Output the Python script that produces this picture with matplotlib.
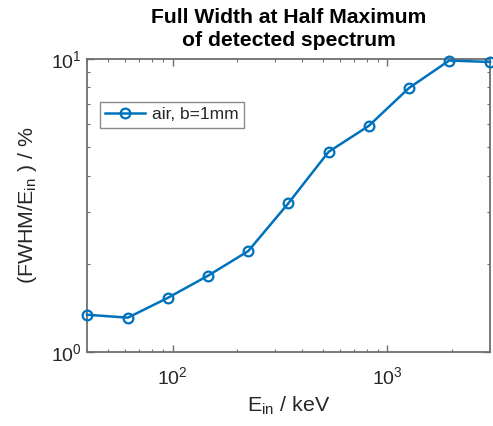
import numpy as np
import matplotlib
matplotlib.use('Agg')
import matplotlib.pyplot as plt
from matplotlib.ticker import LogLocator, NullFormatter

plt.rcParams['font.family'] = ['Liberation Sans', 'DejaVu Sans']
plt.rcParams['mathtext.fontset'] = 'custom'
plt.rcParams['mathtext.rm'] = 'Liberation Sans'
plt.rcParams['mathtext.it'] = 'Liberation Sans:italic'
plt.rcParams['mathtext.bf'] = 'Liberation Sans:bold'

# values
e_in = [40, 62, 95, 146, 225, 346, 532, 818, 1259, 1937, 3000]  # keV
fwhm = [1.34, 1.31, 1.53, 1.82, 2.21, 3.22, 4.82, 5.91, 7.96, 9.88, 9.77]  # %
series_label = 'air, b=1mm'

blue = '#0072BD'
axcol = '#6e6e6e'
txtcol = '#262626'


def main():
    fig = plt.figure(figsize=(4.93, 4.26), dpi=100)
    ax = fig.add_axes([87/493, 74/426, 403/493, 293/426])

    ax.plot(e_in, fwhm, '-o', color=blue, lw=1.8, ms=7, mfc='none',
            mew=1.6, label=series_label, clip_on=False, zorder=3)

    ax.set_xscale('log')
    ax.set_yscale('log')
    ax.set_xlim(40, 3000)
    ax.set_ylim(1, 10)

    ax.xaxis.set_major_locator(LogLocator(base=10))
    ax.yaxis.set_major_locator(LogLocator(base=10))
    ax.xaxis.set_minor_locator(LogLocator(base=10, subs=np.arange(2, 10)))
    ax.yaxis.set_minor_locator(LogLocator(base=10, subs=np.arange(2, 10)))
    ax.xaxis.set_minor_formatter(NullFormatter())
    ax.yaxis.set_minor_formatter(NullFormatter())

    ax.tick_params(which='both', direction='in', top=True, right=True,
                   color=axcol, labelcolor=txtcol, labelsize=14)
    ax.tick_params(which='major', length=5, width=1)
    ax.tick_params(which='minor', length=2.5, width=0.8)
    ax.tick_params(axis='x', pad=10)
    for s in ax.spines.values():
        s.set_color(axcol)
        s.set_linewidth(1.3)

    ax.set_xlabel(r'E$_{\mathrm{in}}$ / keV', fontsize=15.4, color=txtcol,
                  labelpad=5)
    ax.set_ylabel(r'(FWHM/E$_{\mathrm{in}}$ ) / %', fontsize=15.4,
                  color=txtcol, labelpad=9)
    ax.set_title('Full Width at Half Maximum\nof detected spectrum',
                 fontsize=15.2, fontweight='bold', color='black',
                 linespacing=1.32, pad=9)

    leg = ax.legend(loc='upper left', bbox_to_anchor=(0.032, 0.853),
                    fontsize=12.5, frameon=True, fancybox=False,
                    handlelength=2.3, handletextpad=0.4, borderpad=0.3,
                    borderaxespad=0)
    leg.get_frame().set_edgecolor(axcol)
    leg.get_frame().set_linewidth(1.0)
    for t in leg.get_texts():
        t.set_color(txtcol)

    fig.savefig('out.png', dpi=100)


if __name__ == '__main__':
    main()
